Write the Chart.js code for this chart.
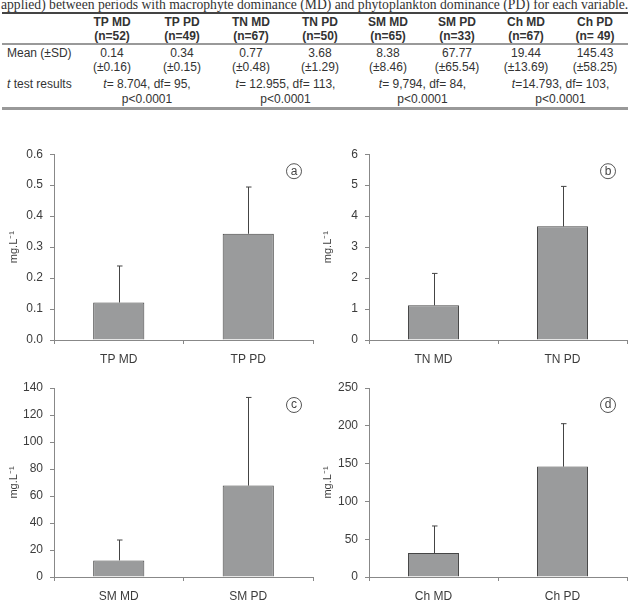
<!DOCTYPE html>
<html>
<head>
<meta charset="utf-8">
<script src="https://cdn.jsdelivr.net/npm/chart.js@4/dist/chart.umd.min.js"></script>
<style>
  html, body { margin: 0; padding: 0; background: #fff; }
  body { width: 628px; height: 603px; position: relative; overflow: hidden; font-family: 'Liberation Sans', Arial, sans-serif; color: #333; }
  .t { position: absolute; font-size: 12px; line-height: 14px; white-space: nowrap; }
  .b { font-weight: bold; }
  .rule { position: absolute; left: 2px; right: 0; }
  .box { position: absolute; }
  .caption { position: absolute; left: 1px; top: -3px; font-family: 'Liberation Serif', 'Times New Roman', serif; font-size: 13.65px; white-space: nowrap; color: #333; }
</style>
</head>
<body>
<div class="caption">applied) between periods with macrophyte dominance (MD) and phytoplankton dominance (PD) for each variable.</div>
<div class="rule" style="top:12px;height:2px;background:#444"></div>
<div class="rule" style="top:43px;height:1.5px;background:#999"></div>
<div class="rule" style="top:107px;height:3px;background:#999"></div>

<div class="box" style="left:0;top:140px"><canvas id="chartA" width="314" height="230"></canvas></div>
<div class="box" style="left:314px;top:140px"><canvas id="chartB" width="314" height="230"></canvas></div>
<div class="box" style="left:0;top:370px"><canvas id="chartC" width="314" height="233"></canvas></div>
<div class="box" style="left:314px;top:370px"><canvas id="chartD" width="314" height="233"></canvas></div>

<script>
// table data
const tableHeads = ['TP MD', 'TP PD', 'TN MD', 'TN PD', 'SM MD', 'SM PD', 'Ch MD', 'Ch PD'];
const tableN = ['(n=52)', '(n=49)', '(n=67)', '(n=50)', '(n=65)', '(n=33)', '(n=67)', '(n= 49)'];
const tableMeans = ['0.14', '0.34', '0.77', '3.68', '8.38', '67.77', '19.44', '145.43'];
const tableSD = ['(±0.16)', '(±0.15)', '(±0.48)', '(±1.29)', '(±8.46)', '(±65.54)', '(±13.69)', '(±58.25)'];
const tTests = ['t= 8.704, df= 95,', 't= 12.955, df= 113,', 't= 9,794, df= 84,', 't=14.793, df= 103,'];
const pValues = ['p<0.0001', 'p<0.0001', 'p<0.0001', 'p<0.0001'];

// chart data
const tpLabels = ['TP MD', 'TP PD'];
const tpMeans = [0.121, 0.343];
const tpErrors = [0.118, 0.151];
const tnLabels = ['TN MD', 'TN PD'];
const tnMeans = [1.12, 3.67];
const tnErrors = [1.03, 1.29];
const smLabels = ['SM MD', 'SM PD'];
const smMeans = [12.3, 67.7];
const smErrors = [15.1, 65.3];
const chLabels = ['Ch MD', 'Ch PD'];
const chMeans = [31.7, 146];
const chErrors = [35.8, 56.8];

const colX = [112, 182, 251, 320, 388, 457, 526, 595];

function placeText(text, cx, baseline, cls, align) {
  const d = document.createElement('div');
  d.className = 't ' + (cls || '');
  d.style.top = (baseline - 11.2) + 'px';
  if (align === 'left') {
    d.style.left = cx + 'px';
  } else {
    d.style.left = (cx - 100) + 'px';
    d.style.width = '200px';
    d.style.textAlign = 'center';
  }
  d.innerHTML = text;
  document.body.appendChild(d);
}

tableHeads.forEach((h, i) => placeText(h, colX[i], 26, 'b'));
tableN.forEach((n, i) => placeText(n, colX[i], 40.5, 'b'));
tableMeans.forEach((m, i) => placeText(m, colX[i], 57.5));
tableSD.forEach((s, i) => placeText(s, colX[i], 71.5));
tTests.forEach((t, i) => {
  const cx = (colX[i * 2] + colX[i * 2 + 1]) / 2;
  placeText(t.replace(/^t/, '<i>t</i>'), cx, 88);
  placeText(pValues[i], cx, 103);
});
placeText('Mean (±SD)', 7, 57.5, '', 'left');
placeText('<i>t</i> test results', 7, 88, '', 'left');

Chart.defaults.font.family = "'Liberation Sans', Arial, sans-serif";
Chart.defaults.color = '#444';

const errorBars = {
  id: 'errorBars',
  afterDatasetsDraw(chart, args, opts) {
    const { ctx, scales: { y } } = chart;
    const meta = chart.getDatasetMeta(0);
    const means = chart.data.datasets[0].data;
    ctx.save();
    ctx.strokeStyle = '#444';
    ctx.lineWidth = 1;
    meta.data.forEach((bar, i) => {
      const x = Math.round(bar.x) + 0.5;
      const top = y.getPixelForValue(means[i] + opts.errors[i]);
      ctx.beginPath();
      ctx.moveTo(x, bar.y);
      ctx.lineTo(x, top);
      ctx.moveTo(x - 2.5, top);
      ctx.lineTo(x + 3, top);
      ctx.stroke();
    });
    ctx.restore();
  },
};

const panelLetter = {
  id: 'panelLetter',
  afterDraw(chart, args, opts) {
    const { ctx, chartArea } = chart;
    const cx = chartArea.right - 19;
    const cy = chartArea.top + 17;
    ctx.save();
    ctx.strokeStyle = '#555';
    ctx.lineWidth = 1;
    ctx.beginPath();
    ctx.arc(cx, cy, 7.5, 0, Math.PI * 2);
    ctx.stroke();
    ctx.fillStyle = '#444';
    ctx.font = "12px 'Liberation Sans', Arial, sans-serif";
    ctx.textAlign = 'center';
    ctx.textBaseline = 'middle';
    ctx.fillText(opts.letter, cx, cy);
    ctx.restore();
  },
};

function renderBarPanel(canvasId, labels, means, errors, yMax, step, decimals, letter, padTop, xHeight, yWidth) {
  const ctx = document.getElementById(canvasId).getContext('2d');
  return new Chart(ctx, {
    type: 'bar',
    data: {
      labels,
      datasets: [{
        data: means,
        backgroundColor: '#9a9b9c',
        borderColor: '#454545',
        borderWidth: 1,
        barPercentage: 0.395,
        categoryPercentage: 1,
      }],
    },
    options: {
      responsive: false,
      animation: false,
      events: [],
      layout: { autoPadding: false, padding: { top: padTop, right: 1, left: 0, bottom: 0 } },
      plugins: {
        legend: { display: false },
        tooltip: { enabled: false },
        errorBars: { errors },
        panelLetter: { letter },
      },
      scales: {
        x: {
          afterFit: s => { s.height = xHeight; },
          border: { color: '#888', width: 1 },
          grid: { offset: true, drawOnChartArea: false, drawTicks: true, tickLength: 4, color: '#888' },
          ticks: { color: '#3c3c3c', padding: 8, font: { size: 12 } },
        },
        y: {
          min: 0,
          max: yMax,
          afterFit: s => { s.width = yWidth; },
          border: { color: '#888', width: 1 },
          grid: { drawOnChartArea: false, drawTicks: true, tickLength: 4, color: '#888' },
          ticks: {
            stepSize: step,
            color: '#3c3c3c',
            padding: 7,
            font: { size: 12 },
            callback: v => Number(v).toFixed(decimals),
          },
          title: {
            display: true,
            text: 'mg.L⁻¹',
            color: '#3c3c3c',
            font: { size: 11 },
            padding: { top: 7, bottom: 0 },
          },
        },
      },
    },
    plugins: [errorBars, panelLetter],
  });
}

renderBarPanel('chartA', tpLabels, tpMeans, tpErrors, 0.6, 0.1, 1, 'a', 10.7, 30, 54);
renderBarPanel('chartB', tnLabels, tnMeans, tnErrors, 6, 1, 0, 'b', 10.7, 30, 55);
renderBarPanel('chartC', smLabels, smMeans, smErrors, 140, 20, 0, 'c', 18, 26, 54);
renderBarPanel('chartD', chLabels, chMeans, chErrors, 250, 50, 0, 'd', 18, 26, 55);
</script>
</body>
</html>
